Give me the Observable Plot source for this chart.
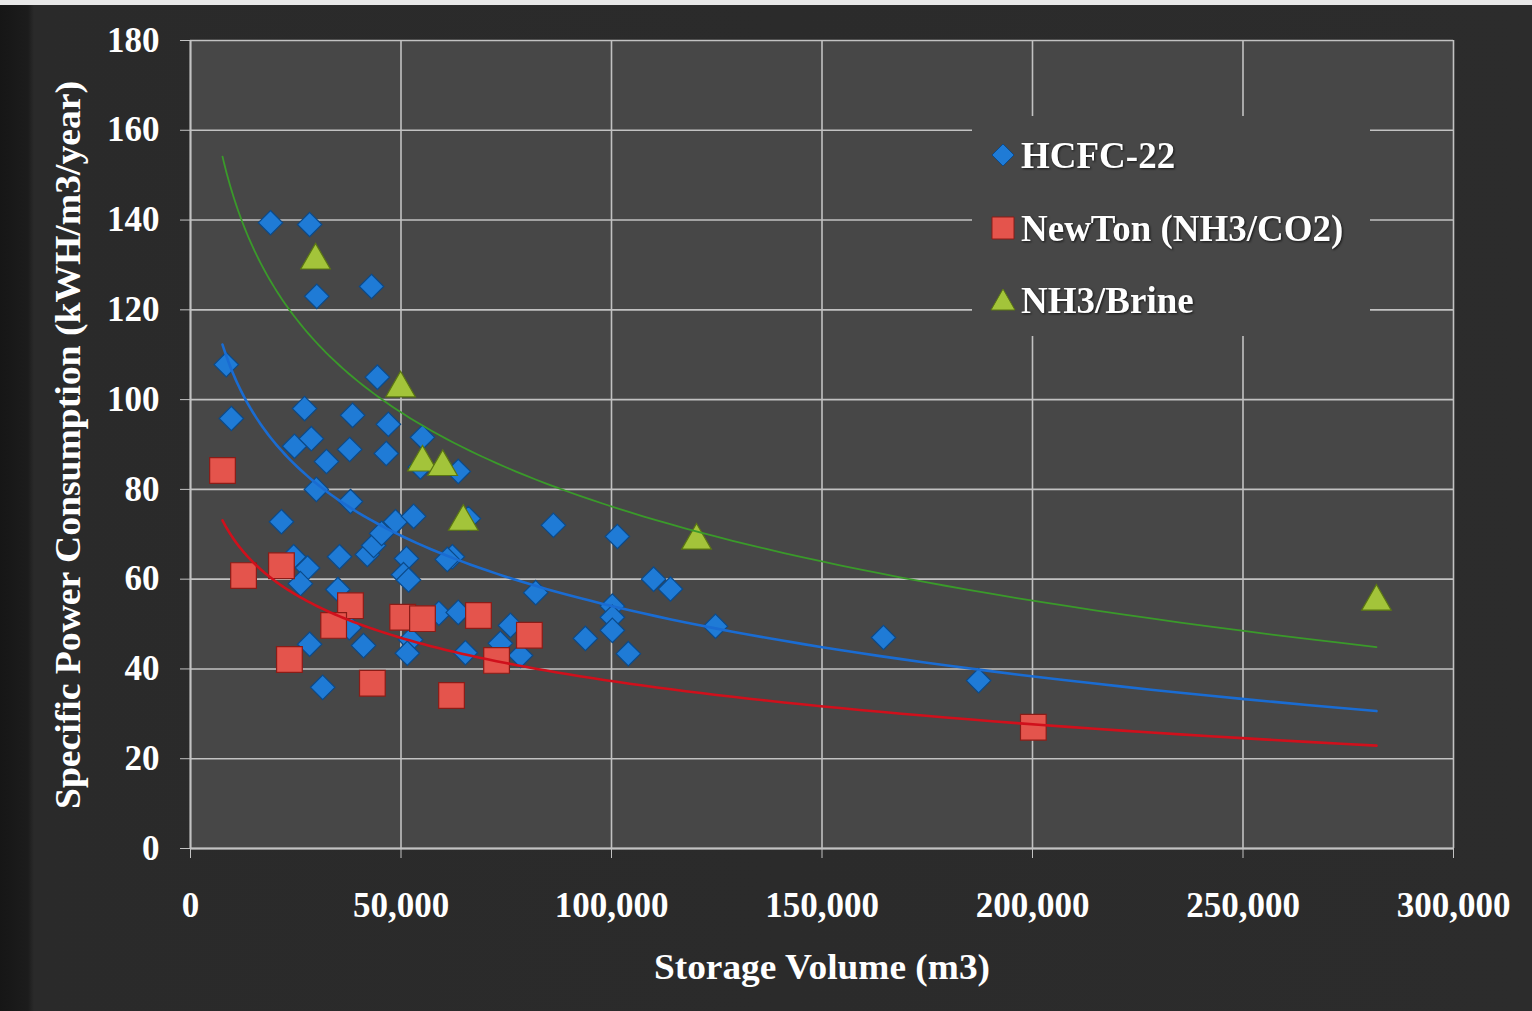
<!DOCTYPE html>
<html>
<head>
<meta charset="utf-8">
<script src="https://cdn.jsdelivr.net/npm/d3@7"></script>
<script src="https://cdn.jsdelivr.net/npm/@observablehq/plot@0.6"></script>
<style>
  html, body { margin: 0; padding: 0; background: #2a2a2a; }
  #wrap { position: relative; width: 1532px; height: 1011px; overflow: hidden;
    background: linear-gradient(to right, #161616 0px, #1c1c1c 28px, #2a2a2a 34px, #2c2c2c 100%); }
  #topstrip { position: absolute; left: 0; top: 0; width: 1532px; height: 5px; background: #e8e8e8; }
  #chart { position: absolute; left: 0; top: 0; }
</style>
</head>
<body>
<div id="wrap"><div id="chart"></div><div id="topstrip"></div></div>
<script>
// ---- Data ----
const seriesNames = ["HCFC-22", "NewTon (NH3/CO2)", "NH3/Brine"];

const hcfcX = [19000, 28300, 30000, 43000, 8500, 9700, 44400, 27100, 38500, 24700,
  28700, 37800, 47000, 46500, 55100, 32300, 54600, 63600, 29900, 38000,
  21600, 35400, 42000, 43500, 45400, 48700, 53000, 66000, 86200, 101400,
  62200, 61000, 51300, 50600, 51800, 24500, 27800, 26100, 35000, 37700,
  41100, 28300, 31400, 52300, 51500, 59000, 63600, 65300, 82000, 93800,
  100200, 100200, 100200, 104000, 110000, 114000, 124700, 164600, 187200, 76000,
  73600, 78400];
const hcfcY = [139.4, 139, 123, 125.2, 107.8, 95.8, 105, 98, 96.5, 89.6,
  91.3, 88.9, 94.5, 88, 91.6, 86.2, 85, 84, 80, 77.3,
  72.8, 65, 65.5, 67.5, 70.2, 72.8, 74, 73.5, 72, 69.5,
  65, 64.4, 64.6, 61, 59.8, 65, 62.5, 59, 57.7, 49.2,
  45.2, 45.5, 35.9, 46.5, 43.5, 52.4, 52.6, 43.6, 57, 46.8,
  54, 51.5, 48.6, 43.4, 60, 57.8, 49.5, 47, 37.4, 49.7,
  45.7, 43];

const newtonX = [7600, 12600, 21600, 23500, 38000, 34000, 43200, 50400, 55100, 68400, 62000, 72700, 80500, 200200];
const newtonY = [84.2, 60.8, 63, 42.1, 54.1, 49.7, 36.8, 51.5, 51.2, 51.9, 34.1, 41.9, 47.5, 27];

const brineX = [29700, 49900, 55100, 59900, 64800, 120200, 281700];
const brineY = [131, 102.5, 86, 85, 72.8, 68.6, 55];

const xTicks = [0, 50000, 100000, 150000, 200000, 250000, 300000];
const yTicks = [0, 20, 40, 60, 80, 100, 120, 140, 160, 180];

// ---- Build tables ----
const toRows = (xs, ys) => xs.map((x, i) => ({x, y: ys[i]}));
const hcfc = toRows(hcfcX, hcfcY);
const newton = toRows(newtonX, newtonY);
const brine = toRows(brineX, brineY);

// Logarithmic trendline (least squares of y on ln x), like the spreadsheet's
function logFit(rows) {
  const lx = rows.map(d => Math.log(d.x));
  const mx = d3.mean(lx), my = d3.mean(rows, d => d.y);
  let sxy = 0, sxx = 0;
  rows.forEach((d, i) => { sxy += (lx[i] - mx) * (d.y - my); sxx += (lx[i] - mx) ** 2; });
  const b = sxy / sxx, a = my - b * mx;
  return x => a + b * Math.log(x);
}
const allX = [...hcfcX, ...newtonX, ...brineX];
const x0 = d3.min(allX), x1 = d3.max(allX);
const sampleX = d3.range(121).map(i => x0 * Math.pow(x1 / x0, i / 120));
const trend = (rows) => { const f = logFit(rows); return sampleX.map(x => ({x, y: f(x)})); };

const C = {
  blue: "#1f7bd6", blueStroke: "#0b4a8a", blueLine: "#1a6cd2",
  red: "#e4544c", redStroke: "#8a1c17", redLine: "#d0101c",
  green: "#a3c43a", greenStroke: "#5a7612", greenLine: "#3a9a2a"
};
const gridColor = "#c2c2c2";

const chart = Plot.plot({
  width: 1532, height: 1011,
  marginLeft: 190, marginRight: 79, marginTop: 40, marginBottom: 163,
  x: {domain: [0, 300000]},
  y: {domain: [0, 180]},
  style: {background: "transparent", color: "#ffffff", fontFamily: "'Liberation Serif', 'Times New Roman', serif", fontSize: "35px", fontWeight: "bold"},
  marks: [
    Plot.frame({fill: "#474747", stroke: null}),
    Plot.gridX(xTicks, {stroke: gridColor, strokeOpacity: 1, strokeWidth: 1.6}),
    Plot.gridY(yTicks, {stroke: gridColor, strokeOpacity: 1, strokeWidth: 1.6}),
    Plot.axisX(xTicks, {tickSize: 10, tickPadding: 34, stroke: gridColor, fill: "#ffffff", tickFormat: d3.format(","), label: null}),
    Plot.axisY(yTicks, {tickSize: 10, tickPadding: 21, stroke: gridColor, fill: "#ffffff", label: null}),
    Plot.ruleX([0], {stroke: gridColor, strokeWidth: 1.8}),
    Plot.ruleY([0], {stroke: gridColor, strokeWidth: 1.8}),
    Plot.dot(hcfc, {x: "x", y: "y", symbol: "diamond2", r: 11, fill: C.blue, stroke: C.blueStroke, strokeWidth: 1.2}),
    Plot.dot(newton, {x: "x", y: "y", symbol: "square", r: 14.5, fill: C.red, stroke: C.redStroke, strokeWidth: 1.2}),
    Plot.dot(brine, {x: "x", y: "y", symbol: "triangle", r: 11, fill: C.green, stroke: C.greenStroke, strokeWidth: 1.2}),
    Plot.line(trend(brine), {x: "x", y: "y", stroke: C.greenLine, strokeWidth: 1.8}),
    Plot.line(trend(hcfc), {x: "x", y: "y", stroke: C.blueLine, strokeWidth: 2.6}),
    Plot.line(trend(newton), {x: "x", y: "y", stroke: C.redLine, strokeWidth: 2.6})
  ]
});
document.getElementById("chart").appendChild(chart);

// ---- Titles and legend (layout overlays) ----
const svg = d3.select(chart);
const font = "'Liberation Serif', 'Times New Roman', serif";
svg.append("text")
  .attr("transform", "translate(80,445) rotate(-90)")
  .attr("text-anchor", "middle")
  .attr("fill", "#ffffff").attr("font-family", font).attr("font-size", 36).attr("font-weight", "bold")
  .attr("textLength", 728).attr("lengthAdjust", "spacingAndGlyphs")
  .text("Specific Power Consumption (kWH/m3/year)");
svg.append("text")
  .attr("x", 822).attr("y", 979)
  .attr("text-anchor", "middle")
  .attr("fill", "#ffffff").attr("font-family", font).attr("font-size", 36).attr("font-weight", "bold")
  .attr("textLength", 336).attr("lengthAdjust", "spacingAndGlyphs")
  .text("Storage Volume (m3)");

const lg = svg.append("g");
lg.append("rect").attr("x", 972).attr("y", 116).attr("width", 398).attr("height", 220).attr("fill", "#474747");
const legendItems = [
  {name: seriesNames[0], sym: "diamond2", fill: C.blue, stroke: C.blueStroke, cy: 155},
  {name: seriesNames[1], sym: "square", fill: C.red, stroke: C.redStroke, cy: 228},
  {name: seriesNames[2], sym: "triangle", fill: C.green, stroke: C.greenStroke, cy: 300}
];
const symPath = {
  diamond2: "M0,-11L11,0L0,11L-11,0Z",
  square: "M-11,-11H11V11H-11Z",
  triangle: "M0,-11L12,10H-12Z"
};
legendItems.forEach(it => {
  lg.append("path").attr("d", symPath[it.sym])
    .attr("transform", `translate(1003,${it.cy})`)
    .attr("fill", it.fill).attr("stroke", it.stroke).attr("stroke-width", 1);
  lg.append("text").attr("x", 1021).attr("y", it.cy + 13)
    .attr("text-anchor", "start")
    .attr("fill", "#ffffff").attr("font-family", font).attr("font-size", 37).attr("font-weight", "bold")
    .style("filter", "drop-shadow(1px 1px 1px rgba(0,0,0,0.7))")
    .text(it.name);
});
</script>
</body>
</html>
